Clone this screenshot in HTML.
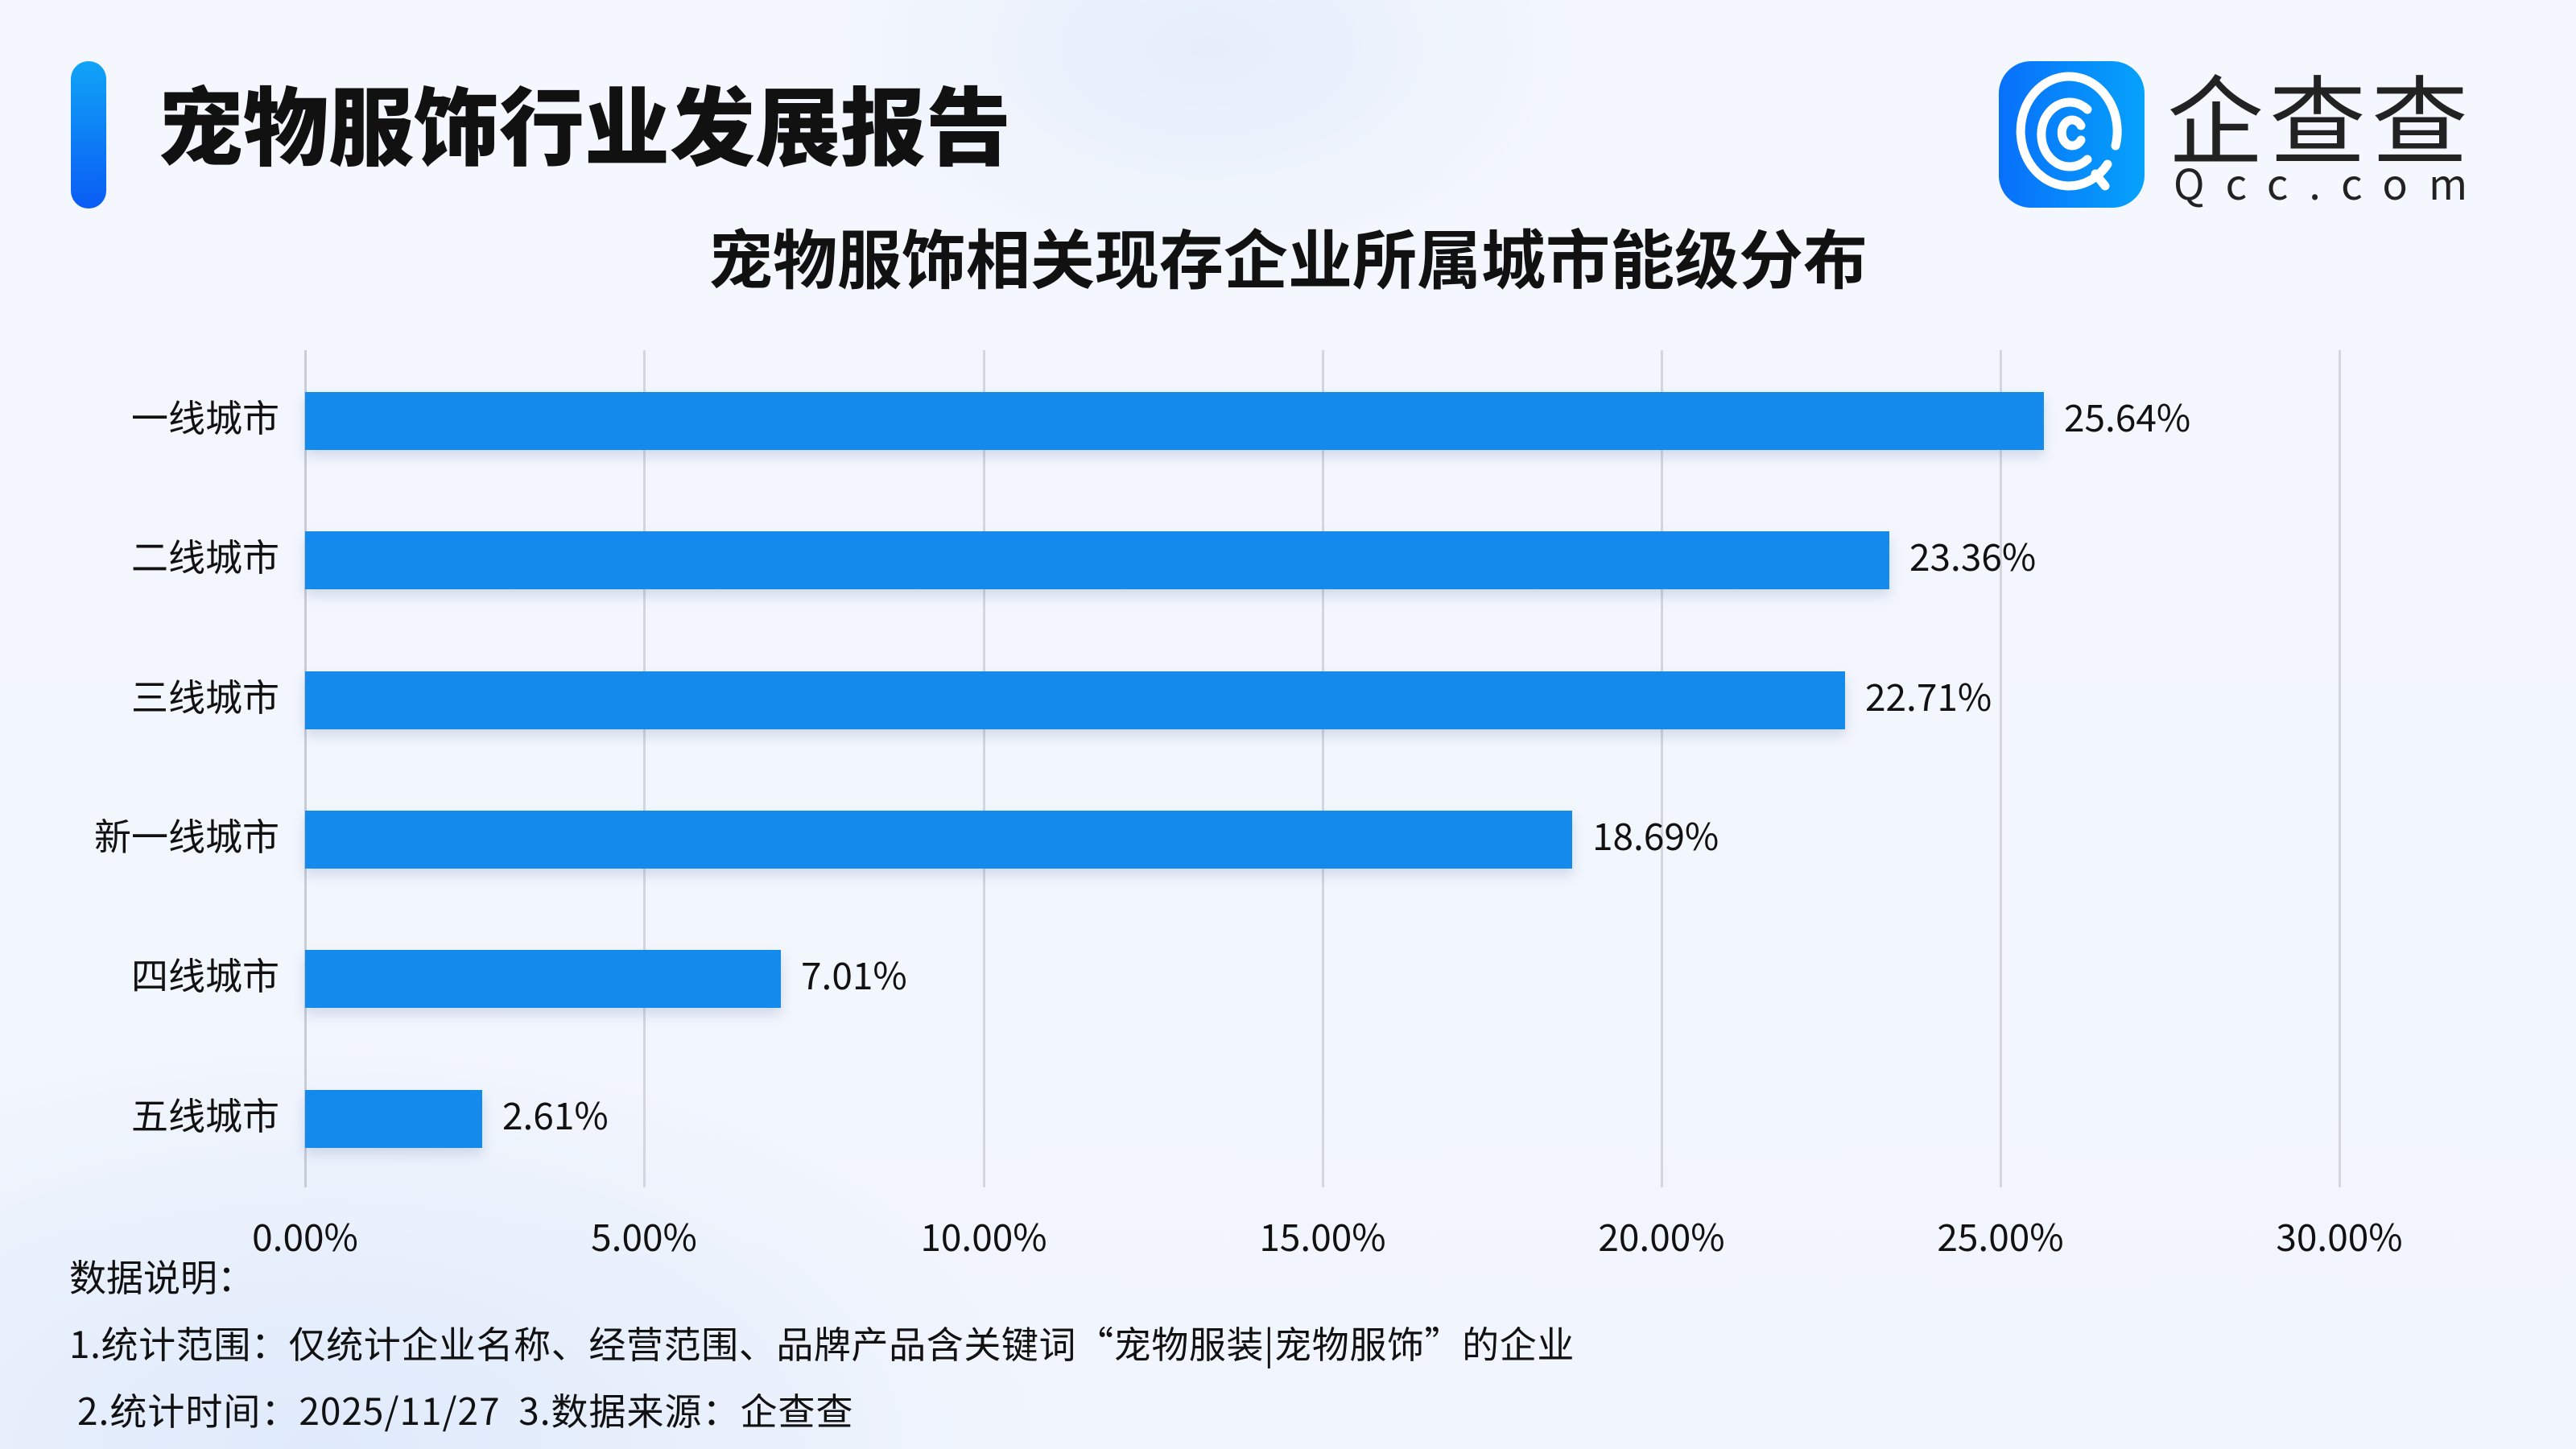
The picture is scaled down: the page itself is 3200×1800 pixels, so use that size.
<!DOCTYPE html>
<html><head><meta charset="utf-8"><style>
*{margin:0;padding:0}
body{width:3200px;height:1800px;overflow:hidden;position:relative;font-family:"Noto Sans CJK SC","Liberation Sans",sans-serif;color:#111;
background:radial-gradient(ellipse 500px 300px at 1500px 60px,#e6eefc 0%,rgba(230,238,252,0) 100%),radial-gradient(ellipse 900px 500px at 400px 1800px,#dfeafb 0%,rgba(223,234,251,0) 100%),linear-gradient(180deg,#f4f7fd,#f1f5fd);}
.abs{position:absolute;white-space:nowrap}
.grid{position:absolute;top:435px;height:1040px;width:3px;background:#d3d6de}
.bar{position:absolute;left:379px;height:72px;background:#148bec;box-shadow:0 8px 14px rgba(60,90,150,0.18)}
.cat{position:absolute;right:2853px;font-size:46px;line-height:60px;text-align:right}
.val{position:absolute;font-size:46px;line-height:60px}
.tick{position:absolute;top:1505px;font-size:46px;line-height:60px;width:300px;text-align:center}
</style></head><body>
<div class="abs" style="left:88px;top:76px;width:44px;height:183px;border-radius:22px;background:linear-gradient(180deg,#10a4f7,#0a5cf5)"></div>
<div class="abs" style="left:196px;top:78px;font-size:106px;font-weight:900;line-height:146px;letter-spacing:0px">宠物服饰行业发展报告</div>
<div class="abs" style="left:2483px;top:76px;width:181px;height:182px;border-radius:40px;background:linear-gradient(90deg,#0870fb,#06a2fb)">
<svg width="181" height="182" viewBox="0 0 181 182"><g fill="none" stroke="#fff" stroke-width="11" stroke-linecap="round">
<path d="M135 128 A60 68 0 1 1 145 105"/><path d="M110 60 A35 40 0 1 0 110 122"/><path d="M102 80 A13 16 0 1 0 102 98"/><path d="M120 140 L132 155"/></g></svg></div>
<div class="abs" style="left:2692px;top:62px;font-size:120px;line-height:160px;color:#222;letter-spacing:7px">企查查</div>
<div class="abs" style="left:2700px;top:196px;font-size:52px;line-height:60px;color:#222;letter-spacing:26px">Qcc.com</div>
<div class="abs" style="left:0;width:3200px;top:258px;text-align:center;font-size:80px;font-weight:700;line-height:120px">宠物服饰相关现存企业所属城市能级分布</div>

<div class="grid" style="left:378px;background:#c8ccd6"></div>
<div class="grid" style="left:799px"></div>
<div class="grid" style="left:1221px"></div>
<div class="grid" style="left:1642px"></div>
<div class="grid" style="left:2063px"></div>
<div class="grid" style="left:2484px"></div>
<div class="grid" style="left:2905px"></div>

<div class="bar" style="top:487px;width:2160px"></div>
<div class="bar" style="top:660px;width:1968px"></div>
<div class="bar" style="top:834px;width:1913px"></div>
<div class="bar" style="top:1007px;width:1574px"></div>
<div class="bar" style="top:1180px;width:591px"></div>
<div class="bar" style="top:1354px;width:220px"></div>

<div class="cat" style="top:487px">一线城市</div>
<div class="cat" style="top:660px">二线城市</div>
<div class="cat" style="top:834px">三线城市</div>
<div class="cat" style="top:1007px">新一线城市</div>
<div class="cat" style="top:1180px">四线城市</div>
<div class="cat" style="top:1354px">五线城市</div>

<div class="val" style="top:487px;left:2564px">25.64%</div>
<div class="val" style="top:660px;left:2372px">23.36%</div>
<div class="val" style="top:834px;left:2317px">22.71%</div>
<div class="val" style="top:1007px;left:1978px">18.69%</div>
<div class="val" style="top:1180px;left:995px">7.01%</div>
<div class="val" style="top:1354px;left:624px">2.61%</div>

<div class="tick" style="left:229px">0.00%</div>
<div class="tick" style="left:650px">5.00%</div>
<div class="tick" style="left:1072px">10.00%</div>
<div class="tick" style="left:1493px">15.00%</div>
<div class="tick" style="left:1914px">20.00%</div>
<div class="tick" style="left:2335px">25.00%</div>
<div class="tick" style="left:2756px">30.00%</div>

<div class="abs" style="left:86px;top:1555px;font-size:46px;line-height:60px">数据说明：</div>
<div class="abs" style="left:86px;top:1638px;font-size:46px;line-height:60px;letter-spacing:0.6px">1.统计范围：仅统计企业名称、经营范围、品牌产品含关键词“宠物服装|宠物服饰”的企业</div>
<div class="abs" style="left:96px;top:1721px;font-size:46px;line-height:60px;letter-spacing:1px">2.统计时间：2025/11/27&nbsp; 3.数据来源：企查查</div>
</body></html>
